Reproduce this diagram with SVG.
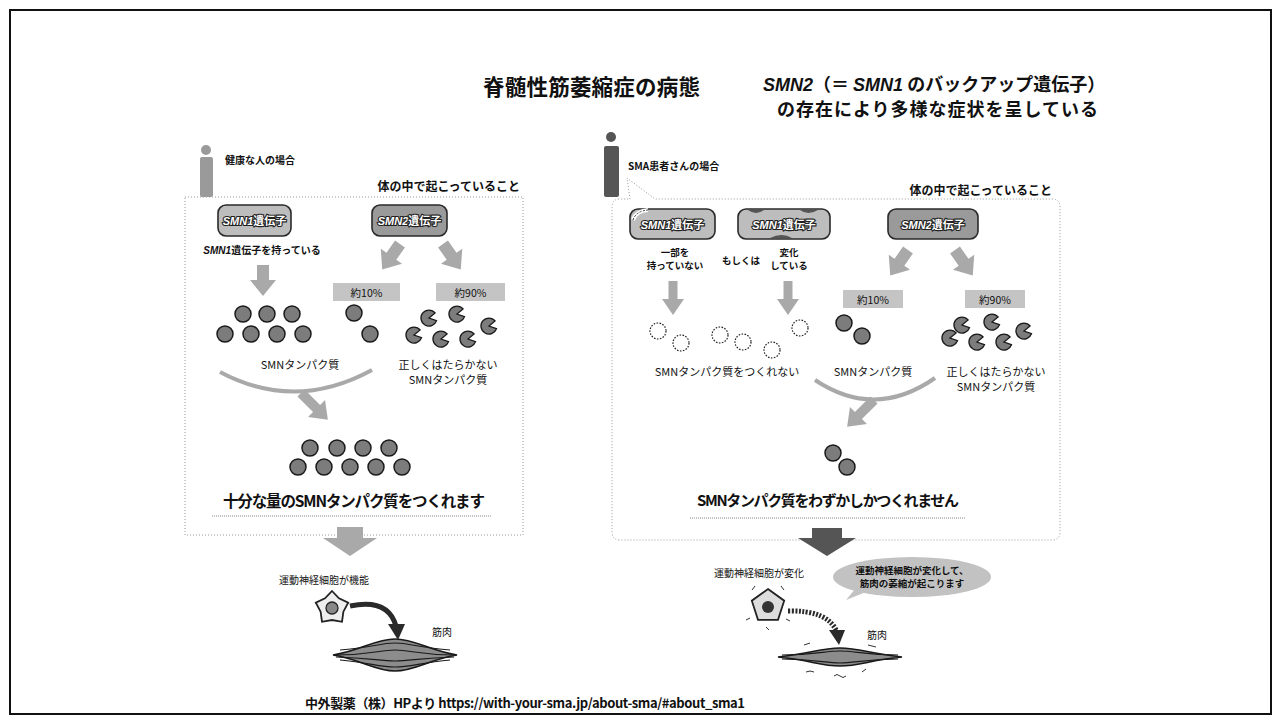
<svg xmlns="http://www.w3.org/2000/svg" xmlns:xlink="http://www.w3.org/1999/xlink" width="1281" height="723" viewBox="0 0 1281 723">
<style>
text{font-family:"Noto Sans CJK JP","Noto Sans",sans-serif;fill:#111}
.b{font-weight:700}
.it{font-family:"Liberation Sans",sans-serif;font-style:italic;font-weight:700}
.dot{fill:#7c7c7c;stroke:#1a1a1a;stroke-width:1.5}
.dash{fill:none;stroke:#222;stroke-width:1.2;stroke-dasharray:1.6 1.4}
.pac{fill:#7c7c7c;stroke:#1a1a1a;stroke-width:1.3}
.arr{fill:#a9a9a9}
.panel{fill:none;stroke:#9a9a9a;stroke-width:1;stroke-dasharray:1 2}
.gene{stroke:#2a2a2a;stroke-width:1.6}
.gt{fill:#fff;stroke:#222;stroke-width:2.2;paint-order:stroke;font-size:11px;font-weight:700}
.pct{fill:#c4c4c4}
.lbl{font-size:11px}
.sm{font-size:10px;font-weight:700}
.mus{fill:#8c8c8c;stroke:#1a1a1a;stroke-width:1.6}
.stripe{fill:none;stroke:#1a1a1a;stroke-width:1.2}
</style>
<defs>
  <path id="pacman" d="M0,0 L6.1,-5.1 A8,8 0 1,0 7.5,2.7 Z"/>
  <circle id="ball" r="8"/>
  <circle id="ring" r="8"/>
  <!-- thick block arrow pointing down from its origin -->
  <path id="blk" d="M-6,0 H6 V15 H13 L0,31 L-13,15 H-6 Z"/>
  <path id="blkThin" d="M-4.5,0 H4.5 V18 H11 L0,34 L-11,18 H-4.5 Z"/>
  <path id="blkLong" d="M-5,0 H5 V22 H12 L0,38 L-12,22 H-5 Z"/>
</defs>

<rect x="0" y="0" width="1281" height="723" fill="#fff"/>
<rect x="10" y="10" width="1261" height="704" fill="none" stroke="#111" stroke-width="2"/>

<!-- heading -->
<g id="heading">
  <text x="483" y="95" class="b" font-size="21.5" textLength="217">脊髄性筋萎縮症の病態</text>
  <text x="763" y="91" font-size="18" class="b"><tspan class="it">SMN2</tspan>（＝ <tspan class="it">SMN1</tspan> のバックアップ遺伝子）</text>
  <text x="777" y="116" font-size="18" class="b" textLength="321">の存在により多様な症状を呈している</text>
</g>

<!-- healthy person panel -->
<g id="healthy">
  <circle cx="206" cy="150" r="5" fill="#9a9a9a"/>
  <rect x="200" y="157" width="13" height="40" rx="2" fill="#9a9a9a"/>
  <text x="225" y="164" class="sm">健康な人の場合</text>
  <text x="520" y="191" font-size="12" class="b" text-anchor="end">体の中で起こっていること</text>
  <rect x="185" y="197" width="338" height="338" class="panel"/>
</g>

<g id="h-smn1">
  <rect x="218" y="205" width="73" height="31" rx="8" fill="#bdbdbd" class="gene"/>
  <text x="254.5" y="225" class="gt" text-anchor="middle"><tspan class="it">SMN1</tspan>遺伝子</text>
  <text x="262" y="254" class="sm" text-anchor="middle"><tspan class="it">SMN1</tspan>遺伝子を持っている</text>
</g>
<g id="h-smn2">
  <rect x="372" y="205" width="75" height="31" rx="8" fill="#9a9a9a" class="gene"/>
  <text x="409.5" y="225" class="gt" text-anchor="middle"><tspan class="it">SMN2</tspan>遺伝子</text>
</g>
<g id="h-pct">
  <rect x="333" y="283" width="67" height="18" class="pct"/>
  <text x="366.5" y="296.5" font-size="10.5" text-anchor="middle">約10%</text>
  <rect x="436" y="283" width="69" height="18" class="pct"/>
  <text x="470.5" y="296.5" font-size="10.5" text-anchor="middle">約90%</text>
</g>
<g id="h-proteins">
  <use xlink:href="#ball" class="dot" x="243" y="314"/>
  <use xlink:href="#ball" class="dot" x="267" y="314"/>
  <use xlink:href="#ball" class="dot" x="292" y="314"/>
  <use xlink:href="#ball" class="dot" x="225" y="334"/>
  <use xlink:href="#ball" class="dot" x="251" y="334"/>
  <use xlink:href="#ball" class="dot" x="277" y="334"/>
  <use xlink:href="#ball" class="dot" x="303" y="334"/>
  <use xlink:href="#ball" class="dot" x="354" y="313"/>
  <use xlink:href="#ball" class="dot" x="370" y="334"/>
  <use xlink:href="#pacman" class="pac" x="429" y="318"/>
  <use xlink:href="#pacman" class="pac" x="457" y="314"/>
  <use xlink:href="#pacman" class="pac" x="489" y="326"/>
  <use xlink:href="#pacman" class="pac" x="414" y="335"/>
  <use xlink:href="#pacman" class="pac" x="441" y="339"/>
  <use xlink:href="#pacman" class="pac" x="468" y="339"/>
  <text x="300" y="369" class="lbl" text-anchor="middle">SMNタンパク質</text>
  <text x="448" y="369" class="lbl" text-anchor="middle">正しくはたらかない</text>
  <text x="448" y="384" class="lbl" text-anchor="middle">SMNタンパク質</text>
</g>
<g id="h-result">
  <use xlink:href="#ball" class="dot" x="310" y="448"/>
  <use xlink:href="#ball" class="dot" x="337" y="448"/>
  <use xlink:href="#ball" class="dot" x="363" y="448"/>
  <use xlink:href="#ball" class="dot" x="389" y="448"/>
  <use xlink:href="#ball" class="dot" x="298" y="467"/>
  <use xlink:href="#ball" class="dot" x="324" y="467"/>
  <use xlink:href="#ball" class="dot" x="350" y="467"/>
  <use xlink:href="#ball" class="dot" x="376" y="467"/>
  <use xlink:href="#ball" class="dot" x="402" y="467"/>
  <text x="354" y="507" font-size="15.5" class="b" text-anchor="middle" textLength="262">十分な量のSMNタンパク質をつくれます</text>
  <line x1="212" y1="516" x2="492" y2="516" stroke="#888" stroke-width="1" stroke-dasharray="1 1"/>
</g>
<g id="h-neuron">
  <text x="324" y="584" font-size="10" text-anchor="middle">運動神経細胞が機能</text>
  <polygon transform="translate(332,608)" points="0,-17 7,-9.7 16.2,-5.3 11.4,3.7 10,13.8 0,12 -10,13.8 -11.4,3.7 -16.2,-5.3 -7,-9.7" fill="#eee" stroke="#222" stroke-width="1.8"/>
  <circle cx="332" cy="608" r="6" fill="#888" stroke="#222" stroke-width="1.3"/>
  <text x="442" y="636" font-size="10" text-anchor="middle">筋肉</text>
</g>
<g id="h-muscle">
  <path d="M333,655 C360,651 375,639 395,639 C415,639 430,651 457,655 C430,659 415,671 395,671 C375,671 360,659 333,655 Z" class="mus"/>
  <path d="M340,650 C370,648 380,643 395,643 C410,643 420,648 450,650" class="stripe"/>
  <path d="M336,655 C370,655 380,650 395,650 C410,650 420,655 454,655" class="stripe"/>
  <path d="M336,657 C370,658 380,661 395,661 C410,661 420,658 454,657" class="stripe"/>
  <path d="M340,660 C370,663 380,667 395,667 C410,667 420,663 450,660" class="stripe"/>
</g>

<!-- SMA patient panel -->
<g id="patient">
  <circle cx="611" cy="137" r="5" fill="#555"/>
  <rect x="604" y="146" width="15" height="51" rx="2" fill="#555"/>
  <text x="628" y="170" class="sm">SMA患者さんの場合</text>
  <text x="1052" y="195" font-size="12" class="b" text-anchor="end">体の中で起こっていること</text>
  <path d="M630,199 L627,178 L655,199 H1052 Q1060,199 1060,207 V532 Q1060,540 1052,540 H620 Q612,540 612,532 V207 Q612,199 620,199 Z" class="panel"/>
</g>

<g id="p-smn1-missing">
  <rect x="630" y="209" width="85" height="30" rx="8" fill="#bdbdbd" class="gene"/>
  <path d="M633,220 Q636,211 648,210" fill="none" stroke="#fff" stroke-width="4"/>
  <path d="M633,220 Q636,211 648,210" fill="none" stroke="#333" stroke-width="1" stroke-dasharray="2 1.5"/>
  <text x="672.5" y="228.5" class="gt" text-anchor="middle"><tspan class="it">SMN1</tspan>遺伝子</text>
  <text x="675" y="256" font-size="9.5" class="b" text-anchor="middle">一部を</text>
  <text x="675" y="269" font-size="9.5" class="b" text-anchor="middle">持っていない</text>
  <text x="741" y="264" font-size="9.5" class="b" text-anchor="middle">もしくは</text>
</g>
<g id="p-smn1-changed">
  <rect x="738" y="209" width="92" height="30" rx="8" fill="#bdbdbd" class="gene"/>
  <path d="M748,210 Q756,216 764,210 Z M800,210 Q808,216 818,210 Z M770,238 Q782,232 792,238 Z" fill="#555"/>
  <text x="784" y="228.5" class="gt" text-anchor="middle"><tspan class="it">SMN1</tspan>遺伝子</text>
  <text x="789" y="256" font-size="9.5" class="b" text-anchor="middle">変化</text>
  <text x="789" y="269" font-size="9.5" class="b" text-anchor="middle">している</text>
</g>
<g id="p-smn2">
  <rect x="888" y="209" width="90" height="30" rx="8" fill="#9a9a9a" class="gene"/>
  <text x="933" y="228.5" class="gt" text-anchor="middle"><tspan class="it">SMN2</tspan>遺伝子</text>
</g>
<g id="p-pct">
  <rect x="843" y="290" width="60" height="18" class="pct"/>
  <text x="873" y="303.5" font-size="10.5" text-anchor="middle">約10%</text>
  <rect x="965" y="290" width="60" height="18" class="pct"/>
  <text x="995" y="303.5" font-size="10.5" text-anchor="middle">約90%</text>
</g>
<g id="p-proteins">
  <use xlink:href="#ring" class="dash" x="658" y="331"/>
  <use xlink:href="#ring" class="dash" x="681" y="343"/>
  <use xlink:href="#ring" class="dash" x="720" y="335"/>
  <use xlink:href="#ring" class="dash" x="743" y="342"/>
  <use xlink:href="#ring" class="dash" x="772" y="350"/>
  <use xlink:href="#ring" class="dash" x="800" y="328"/>
  <use xlink:href="#ball" class="dot" x="844" y="323"/>
  <use xlink:href="#ball" class="dot" x="862" y="336"/>
  <use xlink:href="#pacman" class="pac" x="962" y="325"/>
  <use xlink:href="#pacman" class="pac" x="992" y="322"/>
  <use xlink:href="#pacman" class="pac" x="1024" y="331"/>
  <use xlink:href="#pacman" class="pac" x="950" y="338"/>
  <use xlink:href="#pacman" class="pac" x="977" y="342"/>
  <use xlink:href="#pacman" class="pac" x="1004" y="342"/>
  <text x="727" y="376" class="lbl" text-anchor="middle">SMNタンパク質をつくれない</text>
  <text x="873" y="376" class="lbl" text-anchor="middle">SMNタンパク質</text>
  <text x="996" y="376" class="lbl" text-anchor="middle">正しくはたらかない</text>
  <text x="996" y="391" class="lbl" text-anchor="middle">SMNタンパク質</text>
</g>
<g id="p-result">
  <use xlink:href="#ball" class="dot" x="833" y="453"/>
  <use xlink:href="#ball" class="dot" x="847" y="467"/>
  <text x="828" y="506" font-size="15" class="b" text-anchor="middle" textLength="262">SMNタンパク質をわずかしかつくれません</text>
  <line x1="690" y1="518" x2="966" y2="518" stroke="#888" stroke-width="1" stroke-dasharray="1 1"/>
</g>
<g id="p-neuron">
  <text x="759" y="577" font-size="10" text-anchor="middle">運動神経細胞が変化</text>
  <ellipse cx="912" cy="577" rx="79" ry="20" fill="#c2c2c2"/>
  <path d="M856,588 L846,600 L866,592 Z" fill="#c2c2c2"/>
  <text x="912" y="574" font-size="9.5" class="b" text-anchor="middle">運動神経細胞が変化して、</text>
  <text x="912" y="587" font-size="9.5" class="b" text-anchor="middle">筋肉の萎縮が起こります</text>
  <polygon transform="translate(768,606)" points="0,-17 16.2,-5.3 10,13.8 -10,13.8 -16.2,-5.3" fill="#ddd" stroke="#222" stroke-width="1.8"/>
  <circle cx="768" cy="607" r="6" fill="#333"/>
  <path d="M752,590 l3,-4 M784,590 l-3,-4 M750,618 l-4,2 M786,619 l4,2 M766,627 l3,3" stroke="#333" stroke-width="1"/>
  <text x="877" y="639" font-size="10" text-anchor="middle">筋肉</text>
</g>
<g id="p-muscle">
  <path d="M778,657 C810,654 820,648 840,648 C860,648 870,654 902,657 C870,660 860,666 840,666 C820,666 810,660 778,657 Z" class="mus"/>
  <path d="M782,655 C815,655 825,651 840,651 C855,651 865,655 898,655" class="stripe"/>
  <path d="M782,659 C815,659 825,663 840,663 C855,663 865,659 898,659" class="stripe"/>
  <path d="M806,672 q4,-2 8,0 M834,676 q3,-3 6,0 q3,3 6,0 M862,672 l4,-3 M804,645 l6,-2 M868,645 l8,2" stroke="#333" stroke-width="1" fill="none"/>
</g>

<!-- connectors -->
<g id="connectors">
  <use xlink:href="#blk" class="arr" transform="translate(263,265)"/>
  <use xlink:href="#blk" class="arr" transform="translate(400,244) rotate(35)"/>
  <use xlink:href="#blk" class="arr" transform="translate(443,244) rotate(-35)"/>
  <path d="M220,372 Q295,412 372,370" fill="none" stroke="#a9a9a9" stroke-width="4"/>
  <use xlink:href="#blkLong" class="arr" transform="translate(301,393) rotate(-45)"/>
  <path d="M337,527 H363 V538 H377 L350,556 L323,538 H337 Z" fill="#a9a9a9"/>
  <path d="M350,606 Q388,598 396,626" fill="none" stroke="#2a2a2a" stroke-width="5"/>
  <polygon points="388,624 405,624 398,640" fill="#2a2a2a"/>

  <use xlink:href="#blkThin" class="arr" transform="translate(673,281)"/>
  <use xlink:href="#blkThin" class="arr" transform="translate(788,281)"/>
  <use xlink:href="#blk" class="arr" transform="translate(908,250) rotate(35)"/>
  <use xlink:href="#blk" class="arr" transform="translate(955,250) rotate(-35)"/>
  <path d="M815,380 Q875,420 935,378" fill="none" stroke="#a9a9a9" stroke-width="4"/>
  <use xlink:href="#blkLong" class="arr" transform="translate(874,400) rotate(45)"/>
  <path d="M812,528 H842 V538 H856 L827,556 L798,538 H812 Z" fill="#555"/>
  <path d="M788,611 Q828,610 837,632" fill="none" stroke="#2a2a2a" stroke-width="5" stroke-dasharray="2 1.5"/>
  <polygon points="829,630 845,630 839,645" fill="#2a2a2a"/>
</g>

<g id="source">
  <text x="305" y="708" font-size="13" class="b" textLength="440">中外製薬（株）HPより  https://with-your-sma.jp/about-sma/#about_sma1</text>
</g>
</svg>
